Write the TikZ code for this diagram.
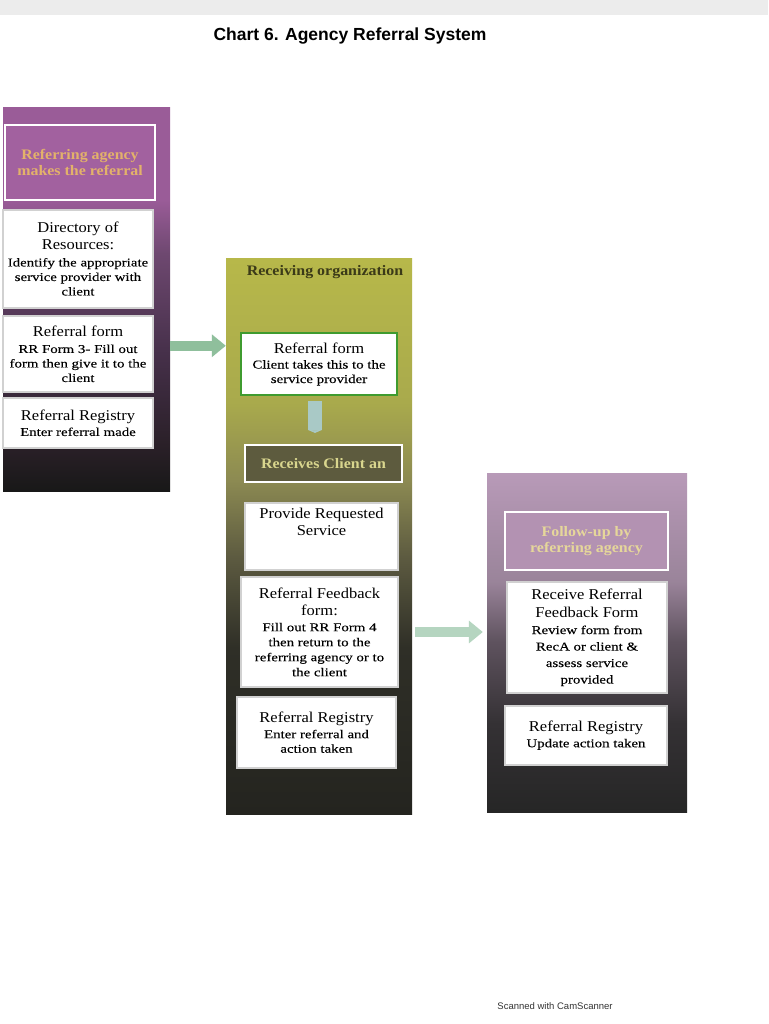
\documentclass[tikz,border=0pt]{standalone}
\usepackage{fontspec}
\setmainfont{Liberation Serif}[FakeStretch=1.1]
\newfontfamily\subfont{Liberation Serif}[FakeStretch=1.24, FakeBold=0.12]
\newfontfamily\headfont{Liberation Sans}
\usetikzlibrary{arrows.meta}

\definecolor{scanedge}{HTML}{ECECEC}
\definecolor{lbot}{HTML}{181818}
\definecolor{lmid}{HTML}{2A2028}
\definecolor{ldark}{HTML}{46304A}
\definecolor{lpurp}{HTML}{6E4870}
\definecolor{ltop}{HTML}{9A5C98}
\definecolor{agencyfill}{HTML}{A2619F}
\definecolor{agencytext}{HTML}{E3B26A}
\definecolor{mbot}{HTML}{24241F}
\definecolor{mdark}{HTML}{2F2F27}
\definecolor{molive}{HTML}{5C5A40}
\definecolor{mgray}{HTML}{8C8A52}
\definecolor{mlime}{HTML}{A9AA4C}
\definecolor{mtop}{HTML}{B7B84A}
\definecolor{recvtext}{HTML}{3B3A18}
\definecolor{formgreen}{HTML}{3F9B2F}
\definecolor{clientfill}{HTML}{5D5B3E}
\definecolor{clienttext}{HTML}{D9D68E}
\definecolor{rbot}{HTML}{262626}
\definecolor{rdark}{HTML}{343134}
\definecolor{rmid}{HTML}{5E525E}
\definecolor{rmauve}{HTML}{9A849A}
\definecolor{rtop}{HTML}{B89AB8}
\definecolor{followfill}{HTML}{B392B2}
\definecolor{followtext}{HTML}{E6D79A}
\definecolor{arrowgreen}{HTML}{8FBF9C}
\definecolor{arrowblue}{HTML}{A9C9C6}
\definecolor{arrowmint}{HTML}{B5D5C0}

% panel fades, bottom (25bp) to top (75bp)
\pgfdeclareverticalshading{agencyfade}{100bp}{color(0bp)=(lbot); color(25bp)=(lbot); color(31bp)=(lmid); color(43bp)=(ldark); color(56bp)=(lpurp); color(63bp)=(ltop); color(75bp)=(ltop); color(100bp)=(ltop)}
\pgfdeclareverticalshading{receivefade}{100bp}{color(0bp)=(mbot); color(25bp)=(mbot); color(40bp)=(mdark); color(48bp)=(molive); color(55bp)=(mgray); color(62bp)=(mlime); color(75bp)=(mtop); color(100bp)=(mtop)}
\pgfdeclareverticalshading{followfade}{100bp}{color(0bp)=(rbot); color(25bp)=(rbot); color(38bp)=(rdark); color(50bp)=(rmid); color(59bp)=(rmauve); color(75bp)=(rtop); color(100bp)=(rtop)}

\newcommand{\cardtitle}{\rmfamily\fontsize{15}{17}\selectfont}

\tikzstyle{panel}=[draw=none, inner sep=0pt]
\tikzstyle{card}=[draw=black!18, line width=1.2pt, fill=white, align=center, inner sep=2pt, font=\subfont\fontsize{12}{14.5}\selectfont]
\tikzstyle{banner}=[draw=white, line width=2.2pt, align=center, inner sep=2pt, font=\fontsize{14.5}{16}\selectfont\bfseries]
\tikzstyle{bigarrow}=[line width=10pt, -{Triangle[length=14pt,width=22pt]}]

\begin{document}
\begin{tikzpicture}[x=1pt, y=-1pt]
  \useasboundingbox (0,0) rectangle (768,1024);
  \fill[white] (0,0) rectangle (768,1024);
  \fill[scanedge] (0,0) rectangle (768,15);

  \node[font=\headfont\fontsize{17.5}{19}\selectfont\bfseries] (title) at (350,36) {Chart 6. Agency Referral System};

  % referring agency
  \node[panel, shading=agencyfade, minimum width=167, minimum height=383] (agency) at (86.5,299.5) {};
  \node[banner, fill=agencyfill, text=agencytext, minimum width=150, minimum height=75] (makes) at (80,162.5) {Referring agency\\makes the referral};
  \node[card, minimum width=150, minimum height=98] (directory) at (78,259) {\cardtitle Directory of\\[2.5pt]\cardtitle Resources:\\[2pt]Identify the appropriate\\service provider with\\client};
  \node[card, minimum width=150, minimum height=76] (form3) at (78,354) {\cardtitle Referral form\\[2pt]RR Form 3- Fill out\\form then give it to the\\client};
  \node[card, minimum width=150, minimum height=50] (madereg) at (78,423) {\cardtitle Referral Registry\\[1pt]Enter referral made};

  % receiving organization
  \node[panel, shading=receivefade, minimum width=186, minimum height=556] (recv) at (319,536) {};
  \node[text=recvtext, font=\fontsize{14.5}{16}\selectfont\bfseries] (recvhead) at (325,272) {Receiving organization};
  \node[card, draw=formgreen, line width=2.5pt, minimum width=156, minimum height=62] (clientform) at (319,364) {\cardtitle Referral form\\[1pt]Client takes this to the\\service provider};
  \node[banner, fill=clientfill, text=clienttext, minimum width=157, minimum height=37] (client) at (323.5,463.5) {Receives Client an};
  \node[card, minimum width=153, minimum height=67] (service) at (321.5,536.5) {\cardtitle Provide Requested\\[3pt]\cardtitle Service\\[15pt]};
  \node[card, minimum width=157, minimum height=110, font=\subfont\fontsize{12}{15}\selectfont] (feedback) at (319.5,632) {\cardtitle Referral Feedback\\[2pt]\cardtitle form:\\[1pt]Fill out RR Form 4\\then return to the\\referring agency or to\\the client};
  \node[card, minimum width=159, minimum height=71] (actionreg) at (316.5,732.5) {\cardtitle Referral Registry\\[1pt]Enter referral and\\action taken};
  \coordinate (handoff) at ([yshift=-14pt]clientform.north);

  % follow-up
  \node[panel, shading=followfade, minimum width=200, minimum height=339] (follow) at (587,642.5) {};
  \node[banner, fill=followfill, text=followtext, minimum width=163, minimum height=58] (followup) at (586.5,541) {Follow-up by\\referring agency};
  \node[card, minimum width=160, minimum height=111, font=\subfont\fontsize{12}{16.5}\selectfont] (review) at (587,637.5) {\cardtitle Receive Referral\\[1.5pt]\cardtitle Feedback Form\\Review form from\\RecA or client \&\\assess service\\provided};
  \node[card, minimum width=162, minimum height=59] (updatereg) at (586,735.5) {\cardtitle Referral Registry\\[1pt]Update action taken};

  \begin{scope}[every path/.style={bigarrow}]
    \draw[arrowgreen] (agency.east |- handoff) -- (recv.west |- handoff);
    \draw[arrowblue, line width=14pt, -{Triangle[length=3pt,width=14pt]}, shorten <=5pt, shorten >=11pt] ([xshift=-4pt]clientform.south) -- ([xshift=-4pt]clientform.south |- client.north);
    \draw[arrowmint, shorten <=3pt, shorten >=4pt] (recv.east |- feedback.center) -- (follow.west |- feedback.center);
  \end{scope}

  \node[font=\headfont\fontsize{9.5}{11}\selectfont, text=black!80] (scanner) at (555,1006) {Scanned with CamScanner};
\end{tikzpicture}
\end{document}
